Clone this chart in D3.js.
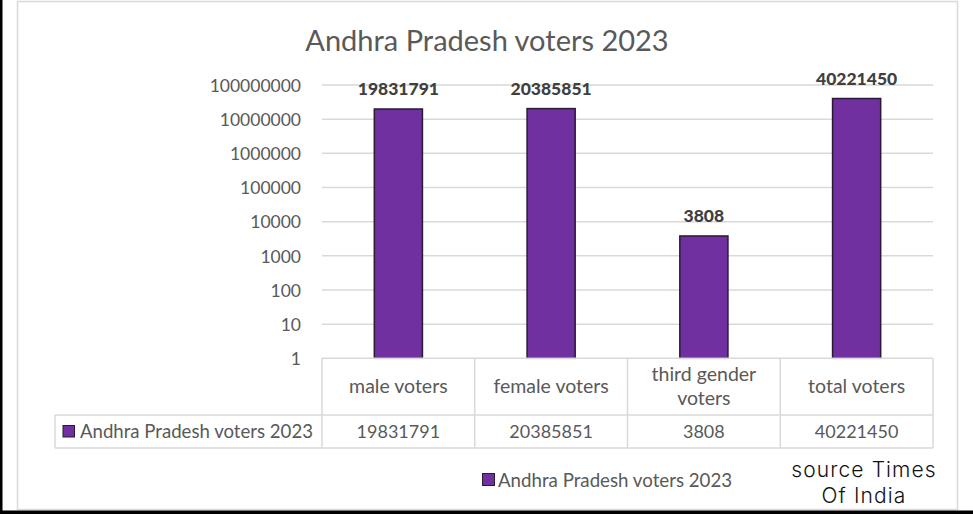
<!DOCTYPE html>
<html><head><meta charset="utf-8">
<script src="https://cdn.jsdelivr.net/npm/d3@7/dist/d3.min.js"></script>
<style>
html,body{margin:0;padding:0;background:#fff;}
svg{display:block;}
</style></head>
<body>
<svg id="c" width="973" height="514"></svg>
<script>
const title = "Andhra Pradesh voters 2023";
const seriesName = "Andhra Pradesh voters 2023";
const categories = ["male voters", "female voters", "third gender voters", "total voters"];
const categoryLines = [["male voters"], ["female voters"], ["third gender", "voters"], ["total voters"]];
const values = [19831791, 20385851, 3808, 40221450];
const tickValues = [1, 10, 100, 1000, 10000, 100000, 1000000, 10000000, 100000000];
const sourceLines = ["source Times", "Of India"];

const W = 973, H = 514;
const svg = d3.select("#c");
const FONT = "Lato, 'Liberation Sans', sans-serif";
const purple = "#7030A0", barStroke = "#2a1a35";
const grid = "#d9d9d9", txt = "#595959";

// frame
svg.append("rect").attr("x",0).attr("y",0).attr("width",W).attr("height",H).attr("fill","#fff");
svg.append("rect").attr("x",17.5).attr("y",1.5).attr("width",940).attr("height",508).attr("fill","none").attr("stroke",grid).attr("stroke-width",1.5);
svg.append("rect").attr("x",0).attr("y",0).attr("width",2.5).attr("height",H).attr("fill","#000");
svg.append("rect").attr("x",0).attr("y",510.5).attr("width",W).attr("height",4).attr("fill","#000");

// title
svg.append("text").attr("x",487).attr("y",51).attr("text-anchor","middle")
  .attr("font-family",FONT).attr("font-size",29).attr("fill",txt).text(title);

const x0 = 322, x1 = 933;
const x = d3.scaleBand().domain(categories).range([x0, x1]).padding(0);
const y = d3.scaleLog().domain([1, 1e8]).range([358.3, 85]);

// gridlines
svg.append("g").selectAll("line").data(tickValues.slice(1)).join("line")
  .attr("x1",x0).attr("x2",x1).attr("y1",d=>y(d)).attr("y2",d=>y(d))
  .attr("stroke",grid).attr("stroke-width",1.5);

// y axis labels via axis
const yAxis = d3.axisLeft(y).tickValues(tickValues).tickFormat(d3.format("d")).tickSize(0).tickPadding(0);
const ya = svg.append("g").attr("transform",`translate(${x0-21},0)`).call(yAxis);
ya.select(".domain").remove();
ya.selectAll("text").attr("font-family",FONT).attr("font-size",17.5).attr("fill",txt).attr("dy","0.36em");

// bars
const bw = x.bandwidth()*0.315;
svg.append("g").selectAll("rect").data(values).join("rect")
  .attr("x",(d,i)=>x(categories[i])+x.bandwidth()/2-bw/2)
  .attr("y",d=>y(d))
  .attr("width",bw)
  .attr("height",d=>y(1)-y(d))
  .attr("fill",purple).attr("stroke",barStroke).attr("stroke-width",1.5);

// data labels
svg.append("g").selectAll("text").data(values).join("text")
  .attr("x",(d,i)=>x(categories[i])+x.bandwidth()/2)
  .attr("y",d=>y(d)-14)
  .attr("text-anchor","middle").attr("font-family",FONT).attr("font-weight","900")
  .attr("font-size",17.5).attr("fill","#404040").text(d=>d);

// data table
const tY0 = 358.3, tY1 = 415, tY2 = 448, tLeft = 55;
const tg = svg.append("g").attr("stroke",grid).attr("stroke-width",1.5);
tg.append("line").attr("x1",x0).attr("x2",x1).attr("y1",tY0).attr("y2",tY0);
tg.append("line").attr("x1",tLeft).attr("x2",x1).attr("y1",tY1).attr("y2",tY1);
tg.append("line").attr("x1",tLeft).attr("x2",x1).attr("y1",tY2).attr("y2",tY2);
tg.append("line").attr("x1",tLeft).attr("x2",tLeft).attr("y1",tY1).attr("y2",tY2);
categories.forEach((c,i)=>{
  tg.append("line").attr("x1",x(c)).attr("x2",x(c)).attr("y1",tY0).attr("y2",tY2);
});
tg.append("line").attr("x1",x1).attr("x2",x1).attr("y1",tY0).attr("y2",tY2);

// header text
categories.forEach((c,i)=>{
  const lines = categoryLines[i];
  const cx = x(c)+x.bandwidth()/2;
  const mid = (tY0+tY1)/2;
  lines.forEach((l,j)=>{
    svg.append("text").attr("x",cx).attr("y",mid + (j-(lines.length-1)/2)*24).attr("dy","0.35em")
      .attr("text-anchor","middle").attr("font-family",FONT).attr("font-size",19.5).attr("fill",txt).text(l);
  });
  svg.append("text").attr("x",cx).attr("y",(tY1+tY2)/2).attr("dy","0.36em")
    .attr("text-anchor","middle").attr("font-family",FONT).attr("font-size",18).attr("fill",txt).text(values[i]);
});

// row label with legend key
svg.append("rect").attr("x",63).attr("y",425.5).attr("width",11.5).attr("height",11.5)
  .attr("fill",purple).attr("stroke",barStroke).attr("stroke-width",1);
svg.append("text").attr("x",80).attr("y",(tY1+tY2)/2).attr("dy","0.36em")
  .attr("font-family",FONT).attr("font-size",18.6).attr("fill",txt).text(seriesName);

// bottom legend
svg.append("rect").attr("x",482.5).attr("y",473.5).attr("width",12).attr("height",12)
  .attr("fill",purple).attr("stroke",barStroke).attr("stroke-width",1);
svg.append("text").attr("x",498).attr("y",480).attr("dy","0.36em")
  .attr("font-family",FONT).attr("font-size",18.7).attr("fill",txt).text(seriesName);

// source
sourceLines.forEach((l,i)=>{
  svg.append("text").attr("x",864).attr("y",477+i*25.5).attr("text-anchor","middle")
    .attr("font-family","Inter, 'DejaVu Sans', sans-serif").attr("font-weight",300)
    .attr("letter-spacing",1.1)
    .attr("font-size",21).attr("fill","#111").text(l);
});
</script>
</body></html>
